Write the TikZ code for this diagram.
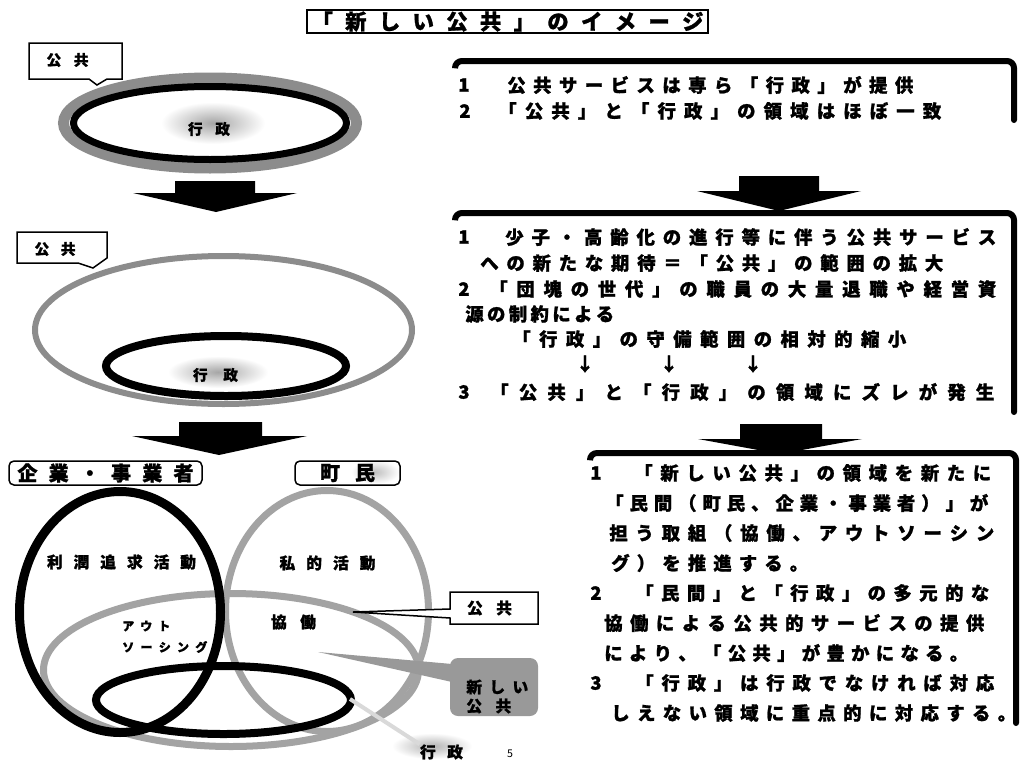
\documentclass[tikz,border=0pt]{standalone}
\usepackage{fontspec}
\setmainfont{Noto Sans CJK JP}[BoldFeatures={FakeBold=1.2}]
\newlength\px \setlength\px{0.75pt}
\makeatletter
\def\sprd#1{\sprd@a#1\sprd@end}
\def\sprd@a#1#2\sprd@end{#1\if\relax\detokenize{#2}\relax\else\hfil\sprd@a#2\sprd@end\fi}
\makeatother
\newcommand\spr[2]{\makebox[#1\px][s]{\sprd{#2}}}
\definecolor{ringgray}{gray}{0.55}
\definecolor{vgray}{gray}{0.64}
\definecolor{boxgray}{gray}{0.6}
\definecolor{faintgray}{gray}{0.85}
\tikzset{
  tbig/.style={inner sep=0pt, font=\bfseries\fontsize{16pt}{18pt}\selectfont},
  tbox/.style={inner sep=0pt, font=\bfseries\fontsize{13.8pt}{16pt}\selectfont},
  tlab/.style={inner sep=0pt, font=\bfseries\fontsize{15pt}{17pt}\selectfont},
  tmid/.style={inner sep=0pt, font=\bfseries\fontsize{11.8pt}{13pt}\selectfont},
  tsm/.style={inner sep=0pt, font=\bfseries\fontsize{11pt}{12pt}\selectfont},
  tkana/.style={inner sep=0pt, font=\bfseries\fontsize{9pt}{10pt}\selectfont},
  frame/.style={line width=6\px, rounded corners=7\px, line cap=round},
  callout/.style={draw=black, fill=white, line width=1.5\px},
  lab/.style={draw=black, line width=1.5\px, rounded corners=5\px, inner sep=0pt},
  blockarrow/.style={fill=black},
}
\begin{document}
\begin{tikzpicture}[x=0.75pt,y=-0.75pt]
\useasboundingbox (0,0) rectangle (1020,760);
\fill[white] (0,0) rectangle (1020,760);

% ---------- title
\node[tbig, draw, line width=1.5\px, minimum width=401\px, minimum height=23\px] (title) at (507.5,21.5) {\spr{392}{「新しい公共」のイメージ}};

% ---------- stage 1
\draw[ringgray, line width=11\px] (210,123) ellipse [x radius=146.5, y radius=45];
\draw[black, line width=7\px] (210,123) ellipse [x radius=136.5, y radius=36.5];
\shade[inner color=black!35, outer color=white] (213,123) ellipse [x radius=52, y radius=21];
\node[tsm] (gyo1) at (209,129) {\spr{42}{行政}};
\draw[callout] (29,43) -- (122,43) -- (122,79) -- (107,79) -- (97,85) -- (89,79) -- (29,79) -- cycle;
\node[tsm] (kyo1) at (67.5,60) {\spr{42}{公共}};

\fill[blockarrow] (175,181) -- (255,181) -- (255,193) -- (297,193) -- (216,212) -- (133,193) -- (175,193) -- cycle;

% ---------- stage 2
\draw[ringgray, line width=6\px] (223.5,330) ellipse [x radius=188.5, y radius=74];
\draw[black, line width=8\px] (226,366) ellipse [x radius=120, y radius=30];
\shade[inner color=black!35, outer color=white] (218,372) ellipse [x radius=50, y radius=16];
\node[tsm] (gyo2) at (215.5,375) {\spr{45}{行政}};
\draw[callout] (17,232) -- (107,232) -- (107,258) -- (93,268) -- (78,263) -- (17,263) -- cycle;
\node[tsm] (kyo2) at (55,249) {\spr{41}{公共}};

\fill[blockarrow] (179,422) -- (262,422) -- (262,436) -- (307,436) -- (219,455) -- (132,436) -- (179,436) -- cycle;

% ---------- stage 3 (venn)
\node[lab, tlab, minimum width=193\px, minimum height=24\px] (kigyo) at (105.5,473) {\spr{176}{企業・事業者}};
\shade[inner color=black!25, outer color=white] (375,472) ellipse [x radius=24, y radius=12];
\node[lab, tlab, minimum width=105\px, minimum height=24\px] (chomin) at (347.5,473) {\spr{55}{町民}};

\draw[vgray, line width=7\px] (231,670) ellipse [x radius=187.5, y radius=76.5];
\draw[vgray, line width=7\px] (327,611) ellipse [x radius=101.5, y radius=120.5];
\draw[black, line width=9\px] (120,612) ellipse [x radius=100.5, y radius=120.5];
\draw[black, line width=8\px] (223.5,700) ellipse [x radius=127.5, y radius=34];

\node[tmid] (rijun) at (121.5,562) {\spr{149}{利潤追求活動}};
\node[tmid] (shiteki) at (327.5,563) {\spr{96}{私的活動}};
\node[tmid] (kyodo) at (293.5,622) {\spr{45}{協働}};
\node[tkana, anchor=west] (out1) at (122,626) {\spr{48}{アウト}};
\node[tkana, anchor=west] (out2) at (122,647) {\spr{85}{ソーシング}};

% callout 公共
\coordinate (kyotip) at (353,612);
\draw[callout] (450,592) -- (538,592) -- (538,624) -- (450,624) -- (450,618) -- (kyotip) -- (450,609) -- cycle;
\node[tmid] (kyo3) at (489.5,608) {\spr{45}{公共}};

% 新しい公共
\coordinate (newtip) at (318,652);
\fill[boxgray] (newtip) -- (452,664) -- (452,682) -- cycle;
\node[fill=boxgray, rounded corners=8\px, minimum width=88\px, minimum height=58\px, inner sep=0pt] (newbox) at (494,687) {};
\node[tmid, anchor=west] (new1) at (466,687) {\spr{62}{新しい}};
\node[tmid, anchor=west] (new2) at (466,706) {\spr{45}{公共}};

% 行政 (bottom)
\shade[inner color=black!30, outer color=white] (432,746) ellipse [x radius=40, y radius=13];
\coordinate (gyotip) at (350,699);
\node[tmid] (gyo3) at (441.5,752) {\spr{43}{行政}};
\draw[faintgray, line width=4\px] (gyotip) -- (gyo3.north west);
\node[inner sep=0pt, font=\fontsize{8pt}{8pt}\selectfont] (page) at (510,754) {5};

% ---------- right column, box 1
\draw[frame] (455,67) -- (455,61) -- (1014,61) -- (1014,120);
\node[tbox] (n11) at (464,85) {1};
\node[tbox, anchor=west] (b1l1) at (507,85) {\spr{406}{公共サービスは専ら「行政」が提供}};
\node[tbox] (n12) at (465,111) {2};
\node[tbox, anchor=west] (b1l2) at (498,111) {\spr{443}{「公共」と「行政」の領域はほぼ一致}};

\fill[blockarrow] (739,176) -- (819,176) -- (819,191) -- (861,191) -- (779,211) -- (697,191) -- (739,191) -- cycle;

% ---------- box 2
\draw[frame] (455,219) -- (455,213) -- (1014,213) -- (1014,412);
\node[tbox] (n21) at (464,237) {1};
\node[tbox, anchor=west] (b2l1) at (505,237) {\spr{491}{少子・高齢化の進行等に伴う公共サービス}};
\node[tbox, anchor=west] (b2l2) at (480,263) {\spr{463}{への新たな期待＝「公共」の範囲の拡大}};
\node[tbox] (n22) at (464,289) {2};
\node[tbox, anchor=west] (b2l3) at (489,289) {\spr{507}{「団塊の世代」の職員の大量退職や経営資}};
\node[tbox, anchor=west] (b2l4) at (465,314) {\spr{149}{源の制約による}};
\node[tbox, anchor=west] (b2l5) at (512,339) {\spr{394}{「行政」の守備範囲の相対的縮小}};
\node[tbox] (ar1) at (585,364) {↓};
\node[tbox] (ar2) at (669,364) {↓};
\node[tbox] (ar3) at (753,364) {↓};
\node[tbox] (n23) at (464,392) {3};
\node[tbox, anchor=west] (b2l6) at (490,392) {\spr{504}{「公共」と「行政」の領域にズレが発生}};

\fill[blockarrow] (740,424) -- (822,424) -- (822,439) -- (862,439) -- (780,454) -- (698,439) -- (740,439) -- cycle;

% ---------- box 3
\draw[frame] (590,459) -- (590,453) -- (1016,453) -- (1016,723);
\node[tbox] (n31) at (596,473) {1};
\node[tbox, anchor=west] (b3l1) at (634,473) {\spr{357}{「新しい公共」の領域を新たに}};
\node[tbox, anchor=west] (b3l2) at (605,503) {\spr{383}{「民間（町民、企業・事業者）」が}};
\node[tbox, anchor=west] (b3l3) at (609,533) {\spr{385}{担う取組（協働、アウトソーシン}};
\node[tbox, anchor=west] (b3l4) at (611,563) {\spr{197}{グ）を推進する。}};
\node[tbox] (n32) at (596,593) {2};
\node[tbox, anchor=west] (b3l5) at (635,593) {\spr{354}{「民間」と「行政」の多元的な}};
\node[tbox, anchor=west] (b3l6) at (604,623) {\spr{380}{協働による公共的サービスの提供}};
\node[tbox, anchor=west] (b3l7) at (604,653) {\spr{364}{により、「公共」が豊かになる。}};
\node[tbox] (n33) at (596,683) {3};
\node[tbox, anchor=west] (b3l8) at (635,683) {\spr{359}{「行政」は行政でなければ対応}};
\node[tbox, anchor=west] (b3l9) at (611,713) {\spr{405}{しえない領域に重点的に対応する。}};
\end{tikzpicture}
\end{document}
